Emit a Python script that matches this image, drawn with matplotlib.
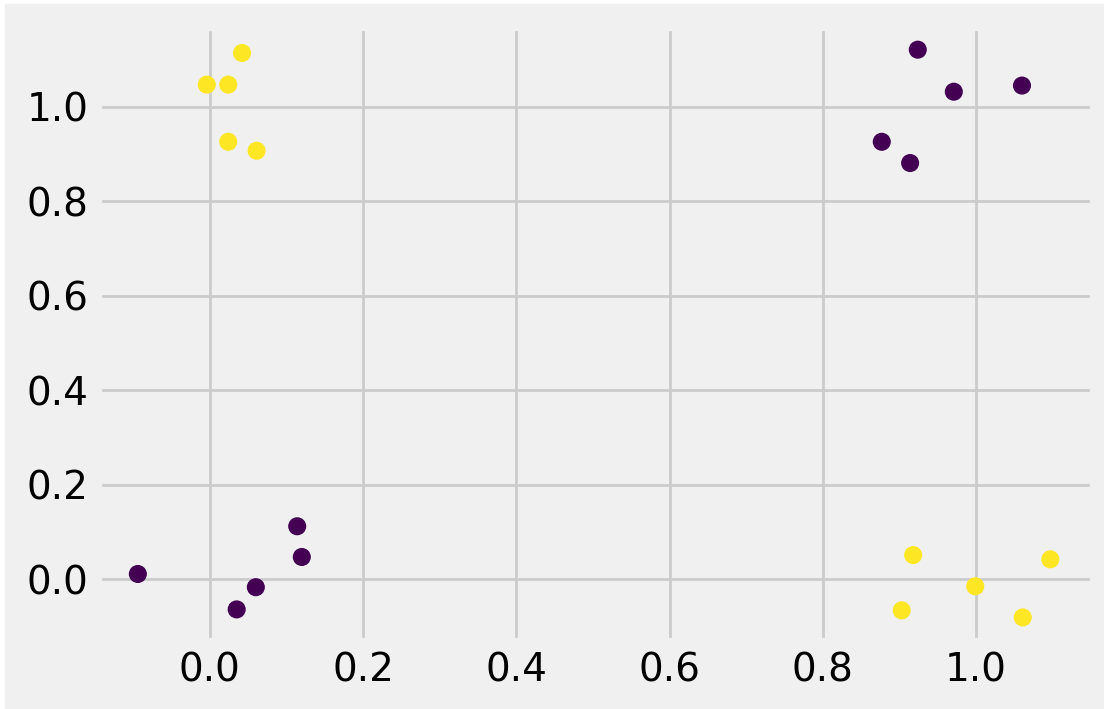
import matplotlib
matplotlib.use("Agg")
import matplotlib.pyplot as plt
from matplotlib.patches import Rectangle
import numpy as np

plt.style.use("fivethirtyeight")

# XOR-style points
x1 = [-0.004, 0.024, 0.042, 0.024, 0.061,
      0.924, 0.971, 1.060, 0.877, 0.914,
      -0.094, 0.114, 0.120, 0.060, 0.035,
      0.918, 1.097, 0.999, 0.903, 1.061]
x2 = [1.047, 1.047, 1.114, 0.926, 0.907,
      1.121, 1.032, 1.045, 0.926, 0.881,
      0.011, 0.112, 0.047, -0.017, -0.064,
      0.051, 0.042, -0.015, -0.066, -0.081]
labels = [1, 1, 1, 1, 1,
          0, 0, 0, 0, 0,
          0, 0, 0, 0, 0,
          1, 1, 1, 1, 1]

fig = plt.figure(figsize=(5.52, 3.545), dpi=200)
fig.patch.set_facecolor("white")
fig.add_artist(Rectangle((5 / 1104, 0), 1, 1 - 4 / 709,
                         transform=fig.transFigure, color="#f0f0f0", zorder=-10))
ax = fig.add_axes([98 / 1104, 1 - 642 / 709, (1094 - 98) / 1104, (642 - 27) / 709])
ax.scatter(x1, x2, c=labels, cmap="viridis")
ax.set_xlim(-0.146, 1.154)
ax.set_ylim(-0.133, 1.169)

fig.savefig("out.png", dpi=200, facecolor=fig.get_facecolor())
